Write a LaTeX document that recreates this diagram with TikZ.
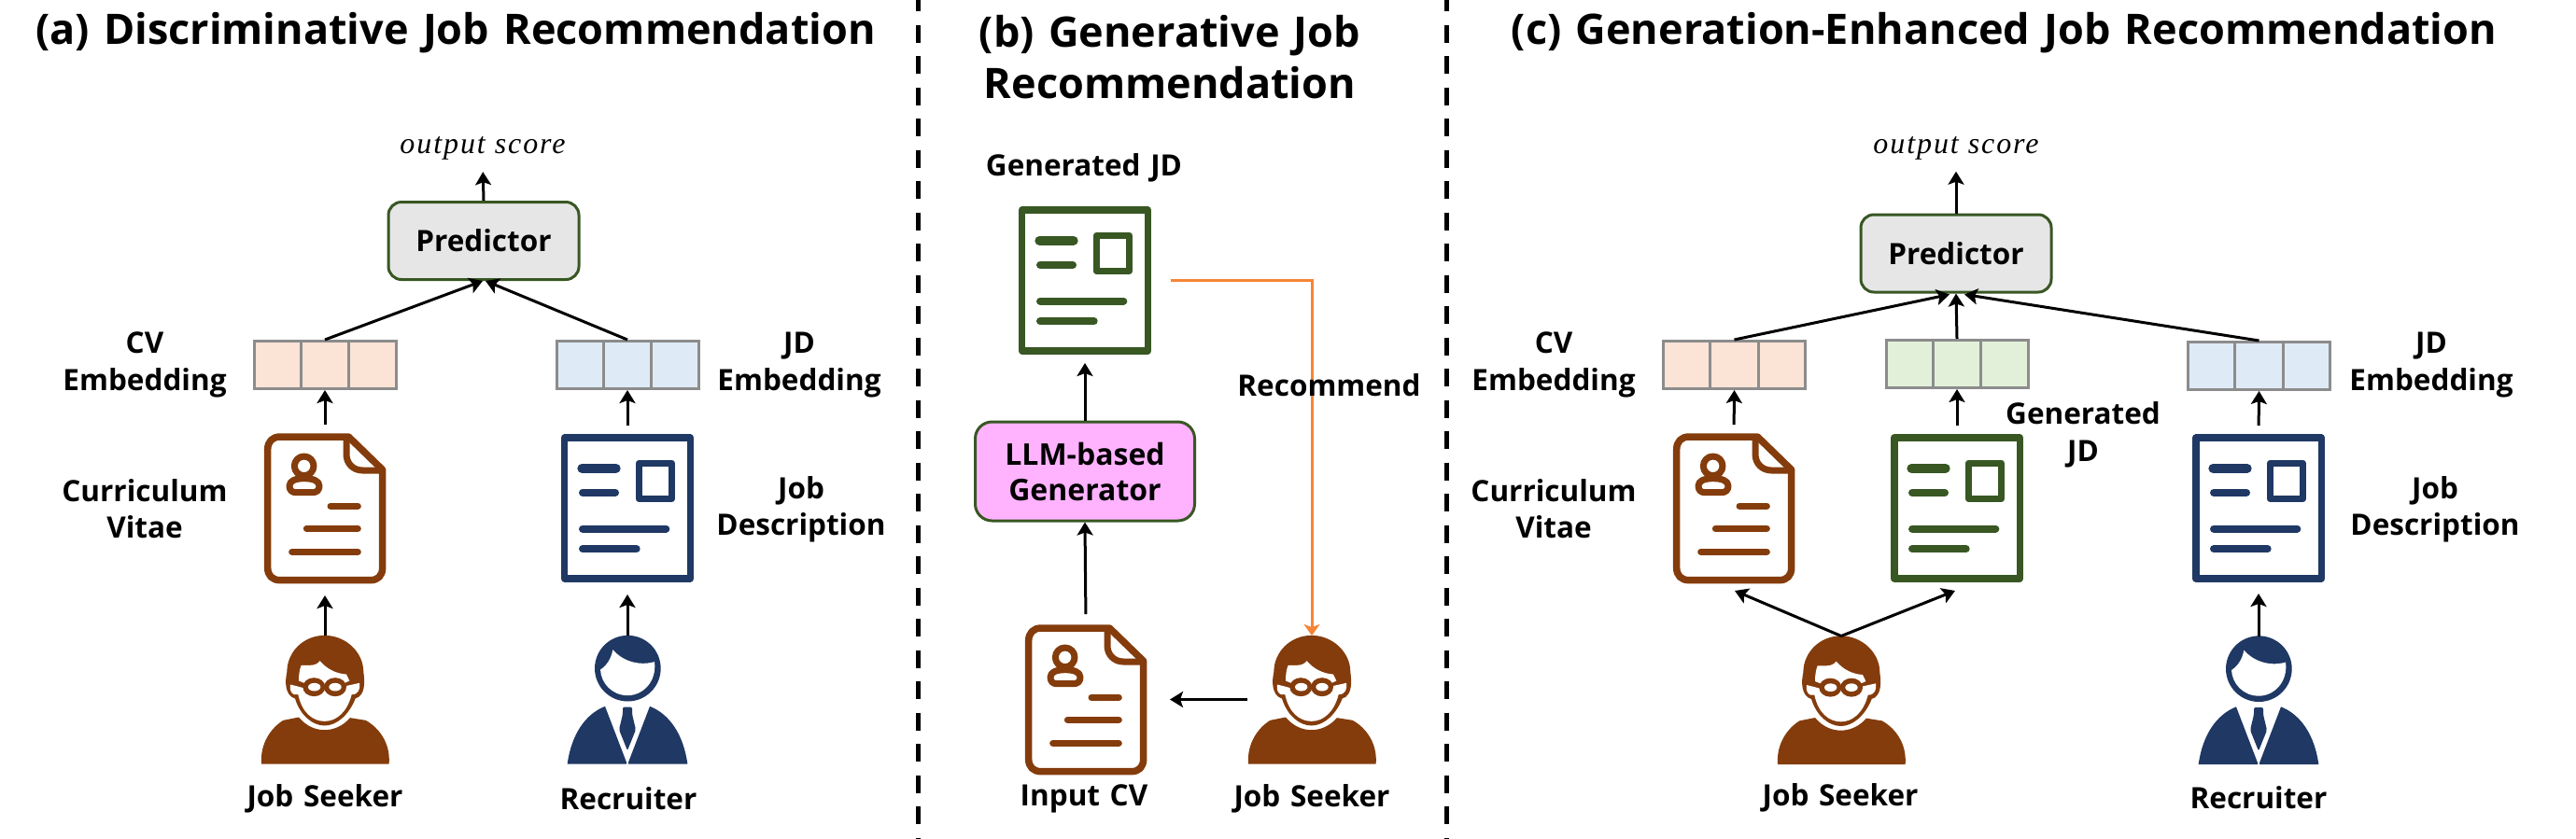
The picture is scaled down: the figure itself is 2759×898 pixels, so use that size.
\documentclass[tikz,border=0pt]{standalone}
\usepackage{fontspec}
\setmainfont{Open Sans}[WordSpace=1.3]
\newfontfamily\scorefont[LetterSpace=6]{Liberation Serif}
\usetikzlibrary{arrows.meta,calc}
\definecolor{cvbrown}{HTML}{843C0C}
\definecolor{jdnavy}{HTML}{1F3864}
\definecolor{gengreen}{HTML}{385723}
\definecolor{emborange}{HTML}{FBE3D6}
\definecolor{embblue}{HTML}{DEEBF7}
\definecolor{embgreen}{HTML}{E2F0D9}
\definecolor{embgray}{HTML}{8C8C8C}
\definecolor{predgray}{HTML}{E6E6E6}
\definecolor{llmpink}{HTML}{FFB3FF}
\definecolor{recorange}{HTML}{F58535}
\tikzset{
  lbl/.style={inner sep=0pt,align=center,font=\fontsize{31.5}{39.5}\selectfont\bfseries,text=black},
  ttl/.style={inner sep=0pt,align=center,font=\fontsize{45}{55}\selectfont\bfseries,text=black},
  score/.style={inner sep=0pt,minimum height=30pt,font=\fontsize{32}{34}\selectfont\scorefont\itshape},
  arr/.style={draw=black,line width=3pt,-{Stealth[length=14pt,width=17pt,inset=3pt]}},
  recarr/.style={draw=recorange,line width=3pt,-{Stealth[length=12pt,width=17pt,inset=3pt]}},
  sep/.style={draw=black,line width=5pt,dash pattern=on 19pt off 14.5pt},
  predbox/.style={draw=gengreen,line width=3pt,fill=predgray,rounded corners=14pt,minimum width=204pt,minimum height=83pt,inner sep=0pt,font=\fontsize{31.5}{34}\selectfont\bfseries},
  llmbox/.style={draw=gengreen,line width=3pt,fill=llmpink,rounded corners=18pt,minimum width=235pt,minimum height=106pt,inner sep=0pt,align=center,font=\fontsize{32}{38}\selectfont\bfseries},
  embbox/.style={draw=embgray,line width=3pt,minimum width=152pt,minimum height=51pt,inner sep=0pt},
  iconcv/.style={inner sep=0pt,outer sep=0pt,minimum width=130pt,minimum height=161pt},
  iconjd/.style={inner sep=0pt,outer sep=0pt,minimum width=143pt,minimum height=159pt},
  iconperson/.style={inner sep=0pt,outer sep=0pt,minimum width=138pt,minimum height=137pt},
  pics/seeker/.style={code={
    \begin{scope}[x=.3333pt,y=-.3333pt,shift={(-264,-328)}]
      \fill[cvbrown] (60,535) -- (470,535) .. controls (475,470) and (440,420) .. (395,395) -- (345,387)
        .. controls (320,415) and (290,426) .. (263,426) .. controls (235,426) and (205,415) .. (180,385)
        -- (130,395) .. controls (90,420) and (55,470) .. (60,535) -- cycle;
      \fill[cvbrown] (263,122) .. controls (330,122) and (388,175) .. (388,240) .. controls (392,270) and (395,315) .. (362,325)
        .. controls (340,380) and (300,412) .. (263,412) .. controls (225,412) and (185,380) .. (168,325)
        .. controls (135,315) and (135,270) .. (142,240) .. controls (142,175) and (195,122) .. (263,122) -- cycle;
      \fill[white] (180,268) .. controls (180,250) and (182,232) .. (188,218) -- (215,218) .. controls (230,218) and (240,214) .. (248,204)
        .. controls (270,230) and (300,245) .. (333,247) -- (343,268) -- (325,276) -- (200,276) -- cycle;
      \fill[white] (153,280) -- (200,292) -- (262,262) -- (330,285) -- (375,275) .. controls (378,295) and (372,312) .. (350,312)
        .. controls (335,370) and (300,398) .. (263,398) .. controls (225,398) and (190,370) .. (178,312)
        -- (165,312) .. controls (155,308) and (150,295) .. (153,280) -- cycle;
      \fill[cvbrown] (229,288) ellipse [x radius=36,y radius=30];
      \fill[cvbrown] (297,288) ellipse [x radius=36,y radius=30];
      \fill[white] (230,288) ellipse [x radius=20,y radius=13];
      \fill[white] (297,288) ellipse [x radius=20,y radius=13];
    \end{scope}
  }},
  pics/recruiter/.style={code={
    \begin{scope}[x=.3333pt,y=-.3333pt,shift={(-1235,-328)}]
      \fill[jdnavy] (1236,228) circle [radius=106];
      \fill[white] (1322,207) .. controls (1330,270) and (1285,315) .. (1236,315)
        .. controls (1185,315) and (1150,275) .. (1148,232) .. controls (1170,218) and (1183,195) .. (1188,168)
        .. controls (1215,200) and (1265,222) .. (1322,207) -- cycle;
      \fill[jdnavy] (1042,535) .. controls (1055,440) and (1100,375) .. (1163,350) -- (1232,530) -- (1232,535) -- cycle;
      \fill[jdnavy] (1428,535) .. controls (1415,440) and (1370,375) .. (1307,350) -- (1238,530) -- (1238,535) -- cycle;
      \fill[jdnavy,rounded corners=2pt] (1220,352) -- (1250,352) -- (1250,375) -- (1262,425) -- (1235,492) -- (1208,425) -- (1220,375) -- cycle;
    \end{scope}
  }},
  pics/cvdoc/.style={code={
    \begin{scope}[x=.3333pt,y=-.3333pt,shift={(-264,-313.5)},draw=cvbrown,line cap=round,line join=round]
      \draw[line width=7.5pt] (340,84) -- (120,84) .. controls (95,84) and (80,100) .. (80,125) -- (80,505)
        .. controls (80,530) and (95,545) .. (120,545) -- (410,545) .. controls (435,545) and (449,530) .. (449,505)
        -- (449,190) -- cycle;
      \draw[line width=7pt] (333,90) -- (333,140) .. controls (333,170) and (355,192) .. (385,192) -- (449,192);
      \draw[line width=7pt] (197,178) circle [radius=31];
      \draw[line width=7pt] (150,242) .. controls (150,225) and (170,218) .. (197,218)
        .. controls (225,218) and (246,225) .. (246,242) .. controls (246,255) and (238,263) .. (225,263) -- (170,263) .. controls (158,263) and (150,255) .. (150,242) -- cycle;
      \draw[line width=7pt] (282,307) -- (370,307);
      \draw[line width=7pt] (205,379) -- (370,379);
      \draw[line width=7pt] (158,454) -- (370,454);
    \end{scope}
  }},
  pics/jddoc/.style={code={
    \begin{scope}[x=.3333pt,y=-.3333pt,shift={(-1234,-314)},draw=#1,line join=round,line cap=round]
      \draw[line width=7.6pt] (1032,88) rectangle (1436,540);
      \draw[line width=7.3pt] (1271,169) rectangle (1376,284);
      \draw[line width=10pt] (1088,186) -- (1197,186);
      \draw[line width=8pt] (1090,264) -- (1195,264);
      \draw[line width=8pt] (1090,380) -- (1358,380);
      \draw[line width=8pt] (1090,445) -- (1263,445);
    \end{scope}
  }},
}
\newcommand{\embdiv}[1]{%
  \draw[draw=embgray,line width=3pt] ($(#1.north west)!1/3!(#1.north east)$) -- ($(#1.south west)!1/3!(#1.south east)$);
  \draw[draw=embgray,line width=3pt] ($(#1.north west)!2/3!(#1.north east)$) -- ($(#1.south west)!2/3!(#1.south east)$);
}
\begin{document}
\begin{tikzpicture}[x=1pt,y=-1pt]
\useasboundingbox[fill=white] (0,0) rectangle (2759,898);
% separators
\coordinate (sepAtop) at (983,-7);
\coordinate (sepAbot) at (983,898);
\coordinate (sepBtop) at (1549.5,-7);
\coordinate (sepBbot) at (1549.5,898);
\draw[sep] (sepAtop) -- (sepAbot);
\draw[sep] (sepBtop) -- (sepBbot);
% titles
\node[ttl] (titleA) at (488,35) {(a) Discriminative Job Recommendation};
\node[ttl] (titleB) at (1253,61) {(b) Generative Job\\Recommendation};
\node[ttl] (titleC) at (2146.5,35) {(c) Generation-Enhanced Job Recommendation};
% panel a
\node[score] (scoreA) at (517,159) {output score};
\node[predbox] (predA) at (518,258) {Predictor};
\node[embbox,fill=emborange] (embCA) at (348,391) {}; \embdiv{embCA}
\node[embbox,fill=embblue] (embJA) at (672,391) {}; \embdiv{embJA}
\node[iconcv] (cvA) at (348,544.5) {}; \pic at (cvA.center) {cvdoc};
\node[iconjd] (jdA) at (672,544.5) {}; \pic at (jdA.center) {jddoc=jdnavy};
\node[iconperson] (seekA) at (348,749.5) {}; \pic at (seekA.center) {seeker};
\node[iconperson] (recA) at (672,749.5) {}; \pic at (recA.center) {recruiter};
\draw[arr,shorten >=10pt] (predA.north) -- (scoreA.south);
\draw[arr] (embCA.north) -- ($(predA.south)+(-1,0)$);
\draw[arr] (embJA.north) -- ($(predA.south)+(2,0)$);
\draw[arr,shorten <=9pt] (cvA.north) -- (embCA.south);
\draw[arr,shorten <=9pt] (jdA.north) -- (embJA.south);
\draw[arr,shorten >=13pt] (seekA.north) -- (cvA.south);
\draw[arr,shorten >=13pt] (recA.north) -- (jdA.south);
\node[lbl] (lEmbCA) at (155,391) {CV\\Embedding};
\node[lbl] (lCurrA) at (155,545) {Curriculum\\Vitae};
\node[lbl] (lEmbJA) at (856,391) {JD\\Embedding};
\node[lbl] (lJobA) at (858,546) {Job\\Description};
\node[lbl] (lSeekA) at (348,856) {Job Seeker};
\node[lbl] (lRecA) at (673,856) {Recruiter};
% panel b
\node[lbl] (lGenB) at (1161,180) {Generated JD};
\node[iconjd] (gdB) at (1162,300.5) {}; \pic at (gdB.center) {jddoc=gengreen};
\node[llmbox] (llmB) at (1162,505) {LLM-based\\Generator};
\node[iconcv] (cvB) at (1163,749.5) {}; \pic at (cvB.center) {cvdoc};
\node[iconperson] (seekB) at (1405,749.5) {}; \pic at (seekB.center) {seeker};
\draw[recarr,shorten <=20pt] (gdB.east) -| (seekB.north);
\draw[arr,shorten >=9pt] (llmB.north) -- (gdB.south);
\draw[arr,shorten <=11pt] (cvB.north) -- (llmB.south);
\draw[arr,shorten >=25pt] (seekB.west) -- (cvB.east);
\node[lbl] (lRecomB) at (1423.5,413) {Recommend};
\node[lbl] (lInputB) at (1161,856) {Input CV};
\node[lbl] (lSeekB) at (1405,856) {Job Seeker};
% panel c
\node[score] (scoreC) at (2095,158.5) {output score};
\node[predbox] (predC) at (2095,271.5) {Predictor};
\node[embbox,fill=emborange] (embCC) at (1857.5,391) {}; \embdiv{embCC}
\node[embbox,fill=embgreen] (embGC) at (2096,390) {}; \embdiv{embGC}
\node[embbox,fill=embblue] (embJC) at (2419.5,392) {}; \embdiv{embJC}
\node[iconcv] (cvC) at (1857,544.5) {}; \pic at (cvC.center) {cvdoc};
\node[iconjd] (gdC) at (2096,544.5) {}; \pic at (gdC.center) {jddoc=gengreen};
\node[iconjd] (jdC) at (2419,544.5) {}; \pic at (jdC.center) {jddoc=jdnavy};
\node[iconperson] (seekC) at (1972,750) {}; \pic at (seekC.center) {seeker};
\node[iconperson] (recC) at (2419,750) {}; \pic at (recC.center) {recruiter};
\draw[arr,shorten >=10pt] (predC.north) -- (scoreC.south);
\draw[arr] (embCC.north) -- ($(predC.south)+(-7,1)$);
\draw[arr] (embGC.north) -- (predC.south);
\draw[arr] (embJC.north) -- ($(predC.south)+(9,1)$);
\draw[arr,shorten <=9pt] (cvC.north) -- (embCC.south);
\draw[arr,shorten <=9pt] (gdC.north) -- (embGC.south);
\draw[arr,shorten <=9pt] (jdC.north) -- (embJC.south);
\draw[arr] (seekC.north) -- ($(cvC.south)+(1,8)$);
\draw[arr] (seekC.north) -- ($(gdC.south)+(-2,9)$);
\draw[arr,shorten >=12pt] (recC.north) -- (jdC.south);
\node[lbl] (lEmbCC) at (1664,391) {CV\\Embedding};
\node[lbl] (lCurrC) at (1664,545) {Curriculum\\Vitae};
\node[lbl] (lGenC) at (2231,466) {Generated\\JD};
\node[lbl] (lEmbJC) at (2604,391) {JD\\Embedding};
\node[lbl] (lJobC) at (2608,546) {Job\\Description};
\node[lbl] (lSeekC) at (1971,855) {Job Seeker};
\node[lbl] (lRecC) at (2419,855) {Recruiter};
\end{tikzpicture}
\end{document}
